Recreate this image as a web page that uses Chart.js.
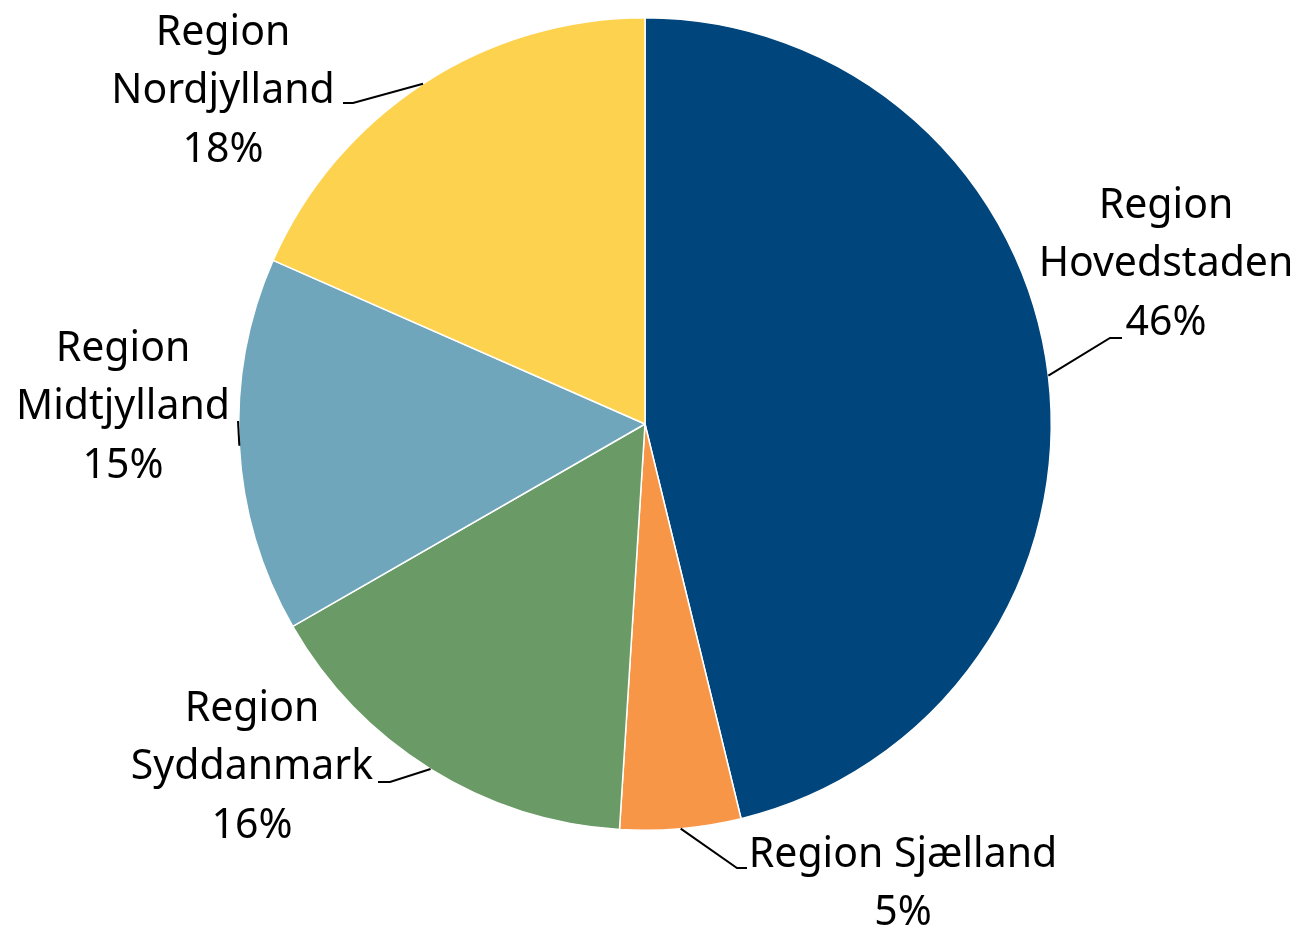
<!DOCTYPE html>
<html>
<head>
<meta charset="utf-8">
<script src="https://cdn.jsdelivr.net/npm/chart.js@4.4.0/dist/chart.umd.min.js"></script>
<style>
  html, body { margin: 0; padding: 0; background: #fff; }
  #wrap { width: 1298px; height: 930px; position: relative; }
</style>
</head>
<body>
<div id="wrap"><canvas id="c"></canvas></div>
<script>
// data, clockwise from 12 o'clock
const regions = ['Region Hovedstaden', 'Region Sjælland', 'Region Syddanmark', 'Region Midtjylland', 'Region Nordjylland'];
const shares = [46.2, 4.8, 15.7, 14.9, 18.4];
const colors = ['#00457C', '#F79646', '#6A9A65', '#6FA6BC', '#FDD24E'];

// label placement (text centre x, first line y, leader elbow/end)
const labelLayout = [
    { x: 1166, y: 206, lines: 3, elbow: [1110, 338], end: [1122, 338] },
    { x: 903,  y: 855, lines: 2, elbow: [737, 868],  end: [747, 868] },
    { x: 252,  y: 709, lines: 3, elbow: [390, 782],  end: [378, 782] },
    { x: 123,  y: 349, lines: 3, elbow: [238, 421],  end: [238, 421] },
    { x: 223,  y: 33,  lines: 3, elbow: [353, 103],  end: [343, 103] }
];
const lineGap = 58.5;

const labelPlugin = {
    id: 'pieLabels',
    afterDatasetsDraw(chart) {
        const ctx = chart.ctx;
        const meta = chart.getDatasetMeta(0);
        const total = shares.reduce((a, b) => a + b, 0);
        ctx.save();
        meta.data.forEach((arc, i) => {
            const L = labelLayout[i];
            const mid = (arc.startAngle + arc.endAngle) / 2;
            const sx = arc.x + Math.cos(mid) * arc.outerRadius;
            const sy = arc.y + Math.sin(mid) * arc.outerRadius;
            ctx.strokeStyle = '#000';
            ctx.lineWidth = 2;
            ctx.beginPath();
            ctx.moveTo(sx, sy);
            ctx.lineTo(L.elbow[0], L.elbow[1]);
            ctx.lineTo(L.end[0], L.end[1]);
            ctx.stroke();

            const pct = Math.round(shares[i] / total * 100) + '%';
            const name = regions[i];
            let text;
            if (L.lines === 2) text = [name, pct];
            else text = [name.split(' ')[0], name.split(' ').slice(1).join(' '), pct];
            ctx.fillStyle = '#000';
            ctx.font = '41px "Noto Sans", sans-serif';
            ctx.textAlign = 'center';
            ctx.textBaseline = 'middle';
            text.forEach((t, k) => ctx.fillText(t, L.x, L.y + k * lineGap));
        });
        ctx.restore();
    }
};

new Chart(document.getElementById('c'), {
    type: 'pie',
    data: {
        labels: regions,
        datasets: [{
            data: shares,
            backgroundColor: colors,
            borderColor: '#ffffff',
            borderWidth: 1.5
        }]
    },
    options: {
        responsive: true,
        maintainAspectRatio: false,
        animation: false,
        layout: { padding: { left: 238, right: 246, top: 17, bottom: 99 } },
        plugins: {
            legend: { display: false },
            tooltip: { enabled: false }
        }
    },
    plugins: [labelPlugin]
});
</script>
</body>
</html>
